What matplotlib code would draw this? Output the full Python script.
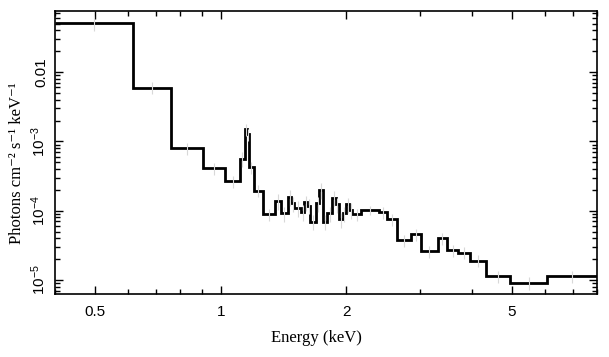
import matplotlib
matplotlib.use("Agg")
import matplotlib.pyplot as plt
from matplotlib.ticker import FixedLocator, FixedFormatter, LogLocator, NullFormatter

# bin edges (keV) and unfolded model flux (photons cm^-2 s^-1 keV^-1)
edges = [0.40, 0.617, 0.761, 0.908, 1.026, 1.114, 1.141, 1.158, 1.167, 1.199,
         1.260, 1.347, 1.392, 1.450, 1.477, 1.502, 1.558, 1.587, 1.611, 1.638,
         1.696, 1.718, 1.756, 1.803, 1.849, 1.891, 1.918, 1.961, 2.001, 2.034,
         2.069, 2.175, 2.393, 2.506, 2.642, 2.861, 3.029, 3.314, 3.491, 3.716,
         3.970, 4.337, 4.952, 6.085, 8.0]
flux = [5.14e-2, 5.94e-3, 7.93e-4, 4.08e-4, 2.68e-4, 5.62e-4, 1.49e-3, 1.26e-3,
        4.26e-4, 1.95e-4, 8.95e-5, 1.38e-4, 9.17e-5, 1.57e-4, 1.28e-4, 1.09e-4,
        9.57e-5, 1.32e-4, 1.18e-4, 6.93e-5, 1.28e-4, 1.99e-4, 6.93e-5, 9.17e-5,
        1.54e-4, 1.24e-4, 7.50e-5, 9.17e-5, 1.24e-4, 1.02e-4, 8.95e-5, 1.02e-4,
        9.47e-5, 7.50e-5, 3.77e-5, 4.56e-5, 2.62e-5, 4.03e-5, 2.71e-5, 2.48e-5,
        1.90e-5, 1.14e-5, 9.14e-6, 1.14e-5]
# fractional errors of the data points (grey crosses)
err_frac = [0.25, 0.2, 0.2, 0.2, 0.2, 0.25, 0.2, 0.2, 0.2, 0.2,
            0.2, 0.25, 0.25, 0.25, 0.25, 0.25, 0.25, 0.25, 0.25, 0.25,
            0.25, 0.25, 0.25, 0.25, 0.25, 0.25, 0.25, 0.25, 0.25, 0.25,
            0.2, 0.15, 0.2, 0.2, 0.2, 0.2, 0.2, 0.2, 0.2, 0.2,
            0.2, 0.2, 0.2, 0.2]

ytick_vals = [1e-5, 1e-4, 1e-3, 1e-2]
ytick_labels = ["10$^{-5}$", "10$^{-4}$", "10$^{-3}$", "0.01"]
xtick_vals = [0.5, 1, 2, 5]
xtick_labels = ["0.5", "1", "2", "5"]

plt.rcParams["font.family"] = ["Liberation Sans", "DejaVu Sans"]
plt.rcParams["mathtext.fontset"] = "custom"
plt.rcParams["mathtext.rm"] = "Liberation Sans"
plt.rcParams["mathtext.it"] = "Liberation Sans"

fig = plt.figure(figsize=(6.09, 3.57), dpi=100)
ax = fig.add_axes([55/609, 1-294/357, 542/609, 283/357])

# grey data crosses
xc = [(edges[i]*edges[i+1])**0.5 for i in range(len(flux))]
ylo = [flux[i]*err_frac[i] for i in range(len(flux))]
yhi = [flux[i]*err_frac[i] for i in range(len(flux))]
ax.errorbar(xc, flux, yerr=[ylo, yhi], fmt="none", ecolor="#d8d8d8",
            elinewidth=0.8, capsize=0)

ax.stairs(flux, edges, color="black", lw=2.0, baseline=None)

ax.set_xscale("log")
ax.set_yscale("log")
ax.set_xlim(0.40, 8.0)
ax.set_ylim(6.3e-6, 0.076)

ax.xaxis.set_major_locator(FixedLocator(xtick_vals))
ax.xaxis.set_major_formatter(FixedFormatter(xtick_labels))
ax.xaxis.set_minor_locator(LogLocator(base=10, subs=range(1, 10)))
ax.xaxis.set_minor_formatter(NullFormatter())
ax.yaxis.set_major_locator(FixedLocator(ytick_vals))
ax.yaxis.set_major_formatter(FixedFormatter(ytick_labels))
ax.yaxis.set_minor_locator(LogLocator(base=10, subs=range(2, 10)))
ax.yaxis.set_minor_formatter(NullFormatter())

ax.tick_params(which="both", direction="in", top=True, right=True, width=1.0)
ax.tick_params(which="major", length=6)
ax.tick_params(which="minor", length=3.5)
ax.tick_params(axis="x", which="major", labelsize=11, pad=8)
ax.tick_params(axis="y", which="major", labelsize=11, pad=5)
for lab in ax.get_yticklabels():
    lab.set_rotation(90)
    lab.set_va("center")
for s in ax.spines.values():
    s.set_linewidth(1.2)

ax.set_xlabel("Energy (keV)", family=["Liberation Serif", "DejaVu Serif"], fontsize=12)
ax.set_ylabel("Photons cm⁻² s⁻¹ keV⁻¹", family=["Liberation Serif", "DejaVu Serif"], fontsize=12)
ax.xaxis.set_label_coords((316-55)/542, -(330-294)/283)
ax.yaxis.set_label_coords(-30/542, 1-(163-11)/283)

plt.savefig("out.png", dpi=100)
